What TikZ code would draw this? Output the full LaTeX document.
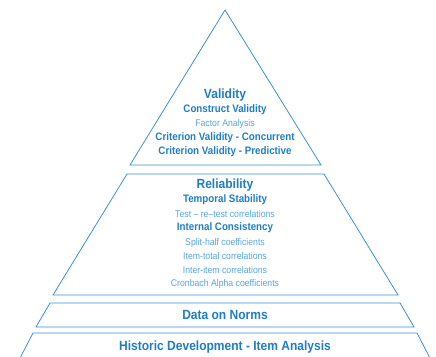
\documentclass[tikz,border=0pt]{standalone}
\usepackage{fontspec}
\setmainfont{Liberation Sans}[FakeStretch=0.9]
\definecolor{edge}{HTML}{3A92D8}
\definecolor{headblue}{HTML}{1F7EC8}
\definecolor{lightblue}{HTML}{5AA6E0}
\tikzset{
  tier/.style={draw=edge, line width=0.8pt, fill=white, line join=miter},
  big/.style={text=headblue, font=\fontsize{13.4}{15}\selectfont\bfseries, inner sep=0pt},
  mid/.style={text=headblue, font=\fontsize{10.9}{12}\selectfont\bfseries, inner sep=0pt},
  small/.style={text=lightblue, font=\fontsize{9.7}{11}\selectfont, inner sep=0pt},
}
\begin{document}
\begin{tikzpicture}[x=1bp,y=-1bp]
\useasboundingbox (0,0) rectangle (436,356);
\clip (0,0) rectangle (436,356);
\fill[white] (0,0) rectangle (436,356);
% tiers
\draw[tier] (225,10) -- (321,165) -- (130,165) -- cycle;
\draw[tier] (127,174) -- (324,174) -- (398,295) -- (53,295) -- cycle;
\draw[tier] (50,303) -- (400,303) -- (414,327) -- (36,327) -- cycle;
\draw[tier] (33,333) -- (417,333) -- (431,360) -- (19,360) -- cycle;
% validity
\node[big] (val) at (225,95) {Validity};
\node[mid] (cv) at (225,110) {Construct Validity};
\node[small] (fa) at (225,124) {Factor Analysis};
\node[mid] (cvc) at (225,138) {Criterion Validity - Concurrent};
\node[mid] (cvp) at (225,152) {Criterion Validity - Predictive};
% reliability
\node[big] (rel) at (225,185) {Reliability};
\node[mid] (ts) at (225,200) {Temporal Stability};
\node[small] (trt) at (225,214) {Test – re–test correlations};
\node[mid] (ic) at (225,228) {Internal Consistency};
\node[small] (sh) at (225,243) {Split-half coefficients};
\node[small] (it) at (225,256) {Item-total correlations};
\node[small] (ii) at (225,270) {Inter-item correlations};
\node[small] (ca) at (225,284) {Cronbach Alpha coefficients};
% norms
\node[big] (norms) at (225,315) {Data on Norms};
% historic
\node[big] (hist) at (225,347) {Historic Development - Item Analysis};
\end{tikzpicture}
\end{document}
